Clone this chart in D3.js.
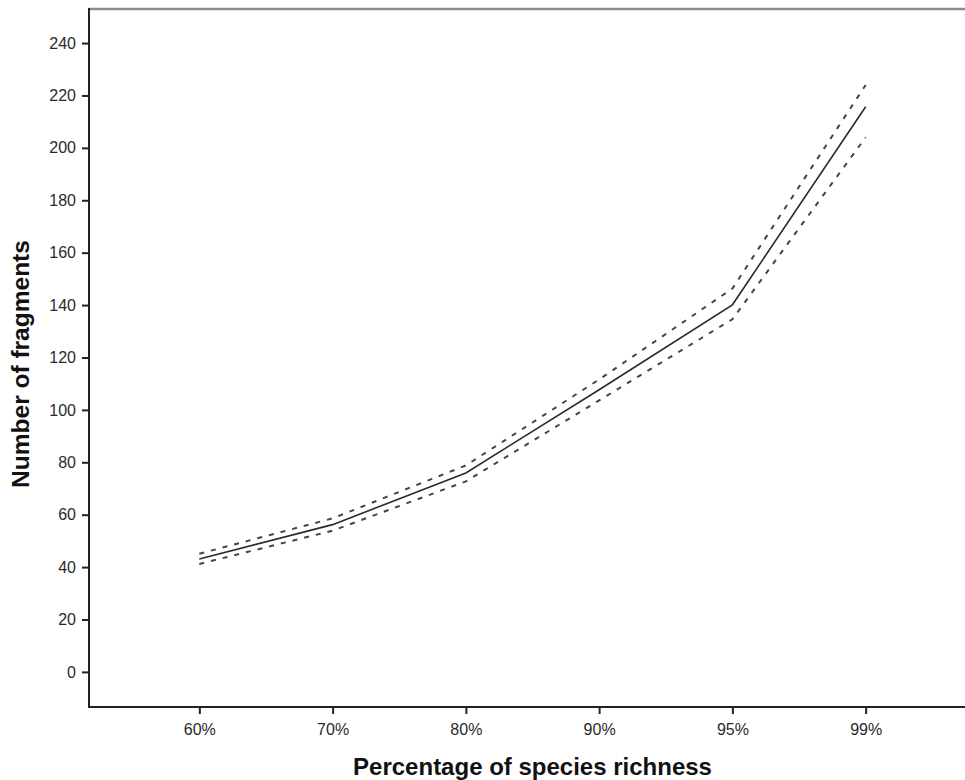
<!DOCTYPE html>
<html>
<head>
<meta charset="utf-8">
<script src="https://cdn.jsdelivr.net/npm/d3@7/dist/d3.min.js"></script>
<style>
  html, body { margin: 0; padding: 0; background: #fff; }
  svg { display: block; }
</style>
</head>
<body>
<svg id="chart" width="965" height="780"></svg>
<script>
// Richness thresholds on the x axis
const categories = ["60%", "70%", "80%", "90%", "95%", "99%"];
// Estimated number of fragments, with the upper and lower bounds
const estimate = [43.1, 56.2, 75.9, 107.7, 140.1, 215.7];
const upperBound = [45.1, 58.6, 78.8, 111.6, 146.3, 224.0];
const lowerBound = [41.2, 53.9, 72.7, 103.6, 134.6, 204.0];
// Y axis ticks
const yTicks = [0, 20, 40, 60, 80, 100, 120, 140, 160, 180, 200, 220, 240];

const FONT = "Arial, 'Liberation Sans', sans-serif";
const svg = d3.select("#chart");
const plotLeft = 89, plotRight = 976, plotTop = 9, plotBottom = 707;

const x = d3.scalePoint().domain(categories).range([plotLeft, plotRight]).padding(0.828);
const y = d3.scaleLinear().domain([-13.4, 253]).range([plotBottom, plotTop]);

// Frame: grey top border, dark left and bottom axes
svg.append("line")
  .attr("x1", plotLeft).attr("x2", 965).attr("y1", plotTop).attr("y2", plotTop)
  .attr("stroke", "#8c8c8c").attr("stroke-width", 2.5);

const yAxis = svg.append("g")
  .attr("transform", `translate(${plotLeft},0)`)
  .call(d3.axisLeft(y).tickValues(yTicks).tickSize(7).tickPadding(6).tickSizeOuter(0));
const xAxis = svg.append("g")
  .attr("transform", `translate(0,${plotBottom})`)
  .call(d3.axisBottom(x).tickSize(7).tickPadding(10).tickSizeOuter(0));

[yAxis, xAxis].forEach(g => {
  g.attr("font-family", FONT).attr("font-size", 16);
  g.select(".domain").remove();
  g.selectAll(".tick line").attr("stroke", "#222").attr("stroke-width", 2);
  g.selectAll(".tick text").attr("fill", "#2a2a2a");
});

svg.append("line")
  .attr("x1", plotLeft).attr("x2", plotLeft).attr("y1", plotTop - 1).attr("y2", plotBottom + 1)
  .attr("stroke", "#222").attr("stroke-width", 2);
svg.append("line")
  .attr("x1", plotLeft).attr("x2", 965).attr("y1", plotBottom).attr("y2", plotBottom)
  .attr("stroke", "#222").attr("stroke-width", 2);

// Lines
const line = d3.line()
  .x((d, i) => x(categories[i]))
  .y(d => y(d));

[upperBound, lowerBound].forEach(series => {
  svg.append("path")
    .datum(series)
    .attr("d", line)
    .attr("fill", "none")
    .attr("stroke", "#444")
    .attr("stroke-width", 2)
    .attr("stroke-dasharray", "5,7");
});

svg.append("path")
  .datum(estimate)
  .attr("d", line)
  .attr("fill", "none")
  .attr("stroke", "#2a2a2a")
  .attr("stroke-width", 1.6);

// Axis titles
svg.append("text")
  .attr("x", (plotLeft + plotRight) / 2).attr("y", 775)
  .attr("text-anchor", "middle")
  .attr("font-family", FONT)
  .attr("font-weight", "bold").attr("font-size", 24).attr("fill", "#111")
  .text("Percentage of species richness");

svg.append("text")
  .attr("transform", `translate(29,364) rotate(-90)`)
  .attr("text-anchor", "middle")
  .attr("font-family", FONT)
  .attr("font-weight", "bold").attr("font-size", 24.5).attr("fill", "#111")
  .text("Number of fragments");
</script>
</body>
</html>
